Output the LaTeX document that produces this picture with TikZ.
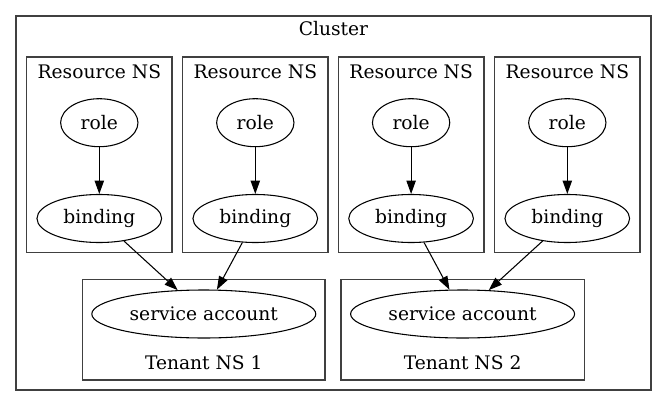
\documentclass[tikz,border=0pt]{standalone}
\usepackage{fontspec}
\setmainfont{DejaVu Serif}
\usetikzlibrary{shapes.geometric,arrows.meta}
\begin{document}
\begin{tikzpicture}[x=0.75pt,y=-0.75pt,
  font=\fontsize{14}{17}\selectfont,
  clusterbox/.style={draw=black!75,line width=1pt},
  ell/.style={draw,ellipse,line width=0.8pt,inner sep=0pt,minimum height=36pt},
  rolenode/.style={ell,minimum width=58pt},
  bindnode/.style={ell,minimum width=93.5pt},
  sanode/.style={ell,minimum width=168pt},
  edge/.style={line width=0.8pt,-{Triangle[length=10pt,width=7pt]}},
  lbl/.style={inner sep=0pt}]
\useasboundingbox (0,0) rectangle (667,407);
% outer cluster
\draw[clusterbox] (16,16) rectangle (651,390);
\node[lbl] (clbl) at (333.5,29) {Cluster};
% resource NS boxes
\foreach \i/\a/\b in {1/26.7/172,2/182.7/328,3/338.3/484,4/494.7/640}{
  \draw[clusterbox] (\a,57) rectangle (\b,252.7);
  \node[lbl] (rl\i) at ({(\a+\b)/2},72) {Resource NS};
}
% tenant NS boxes
\draw[clusterbox] (82.7,279.7) rectangle (325,380);
\draw[clusterbox] (341,279.7) rectangle (584.3,380);
\node[lbl] (tl1) at (203.8,363) {Tenant NS 1};
\node[lbl] (tl2) at (462.6,363) {Tenant NS 2};
% nodes
\node[rolenode] (r1) at (99.3,122.7) {role};
\node[rolenode] (r2) at (255.3,122.7) {role};
\node[rolenode] (r3) at (411.1,122.7) {role};
\node[rolenode] (r4) at (567.3,122.7) {role};
\node[bindnode] (b1) at (99.3,218.5) {binding};
\node[bindnode] (b2) at (255.3,218.5) {binding};
\node[bindnode] (b3) at (411.1,218.5) {binding};
\node[bindnode] (b4) at (567.3,218.5) {binding};
\node[sanode] (s1) at (203.8,314) {service account};
\node[sanode] (s2) at (462.6,314) {service account};
% edges
\draw[edge] (r1) -- (b1);
\draw[edge] (r2) -- (b2);
\draw[edge] (r3) -- (b3);
\draw[edge] (r4) -- (b4);
\draw[edge] (b1) -- (s1);
\draw[edge] (b2) -- (s1);
\draw[edge] (b3) -- (s2);
\draw[edge] (b4) -- (s2);
\end{tikzpicture}
\end{document}
